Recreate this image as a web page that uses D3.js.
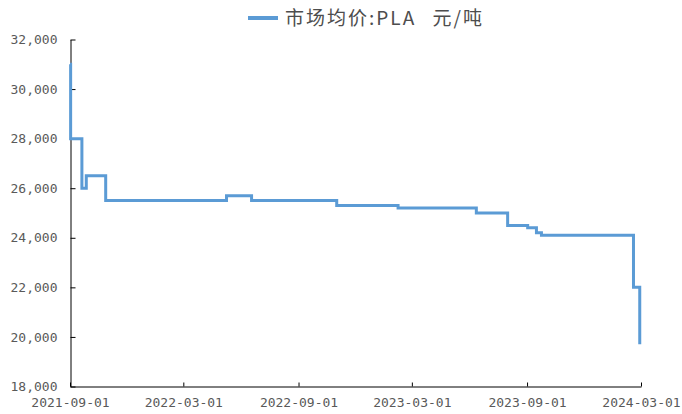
<!DOCTYPE html>
<meta charset="utf-8">
<style>
body { margin: 0; background: #fff; }
.axis path, .axis line { stroke: #000; }
.axis text { fill: #595959; font-family: "DejaVu Sans Mono", monospace; font-size: 13px; }
.line { fill: none; stroke: #5B9BD5; stroke-width: 3px; }
</style>
<script src="https://cdn.jsdelivr.net/npm/d3@7"></script>
<body>
<script>

// change points of the price series (value holds until next date)
var dates = ["2021-09-01", "2021-09-02", "2021-09-20", "2021-09-27", "2021-10-28",
             "2022-05-09", "2022-06-18", "2022-11-01", "2023-02-07", "2023-06-12",
             "2023-08-01", "2023-09-02", "2023-09-16", "2023-09-24", "2024-02-18",
             "2024-02-28"];
var prices = [31000, 28000, 26000, 26500, 25500,
              25700, 25500, 25300, 25200, 25000,
              24500, 24400, 24200, 24100, 22000,
              19700];
var xTicks = ["2021-09-01", "2022-03-01", "2022-09-01", "2023-03-01", "2023-09-01", "2024-03-01"];
var yTicks = [18000, 20000, 22000, 24000, 26000, 28000, 30000, 32000];
var seriesName = "市场均价:PLA 元/吨";

var width = 682,
    height = 414;

var parse = d3.timeParse("%Y-%m-%d");
var data = dates.map(function (d, i) { return { date: parse(d), value: prices[i] }; });

var svg = d3.select("body")
              .append("svg")
              .attr("width", width)
              .attr("height", height);

var x = d3.scaleTime()
          .domain([parse(xTicks[0]), parse(xTicks[xTicks.length - 1])])
          .range([70, 641]);

var y = d3.scaleLinear()
          .domain([18000, 32000])
          .range([386.5, 39.5]);

svg.append("g")
    .attr("class", "axis")
    .attr("transform", "translate(0,386.5)")
    .call(d3.axisBottom(x)
            .tickValues(xTicks.map(parse))
            .tickFormat(d3.timeFormat("%Y-%m-%d"))
            .tickSizeInner(-4)
            .tickSizeOuter(0)
            .tickPadding(11));

svg.append("g")
    .attr("class", "axis")
    .attr("transform", "translate(70.5,0)")
    .call(d3.axisLeft(y)
            .tickValues(yTicks)
            .tickFormat(d3.format(","))
            .tickSizeInner(-5)
            .tickSizeOuter(0)
            .tickPadding(13));

var line = d3.line()
              .curve(d3.curveStepAfter)
              .x(function (d) { return x(d.date); })
              .y(function (d) { return y(d.value); });

svg.append("path")
    .datum(data)
    .attr("class", "line")
    .attr("d", line);

// legend
var legend = svg.append("g");
legend.append("line")
    .attr("x1", 248).attr("x2", 278)
    .attr("y1", 18).attr("y2", 18)
    .attr("stroke", "#5B9BD5")
    .attr("stroke-width", 4);

var parts = seriesName.split(" ");
var ltext = legend.append("text")
    .attr("x", 285)
    .attr("y", 25)
    .attr("fill", "#4d4d4d")
    .style("font-family", "'Noto Sans CJK SC', sans-serif")
    .style("font-size", "19px")
    .style("letter-spacing", "2px");
ltext.append("tspan").text(parts[0] + " ");
ltext.append("tspan").attr("dx", 10).text(parts[1]);

</script>
</body>
